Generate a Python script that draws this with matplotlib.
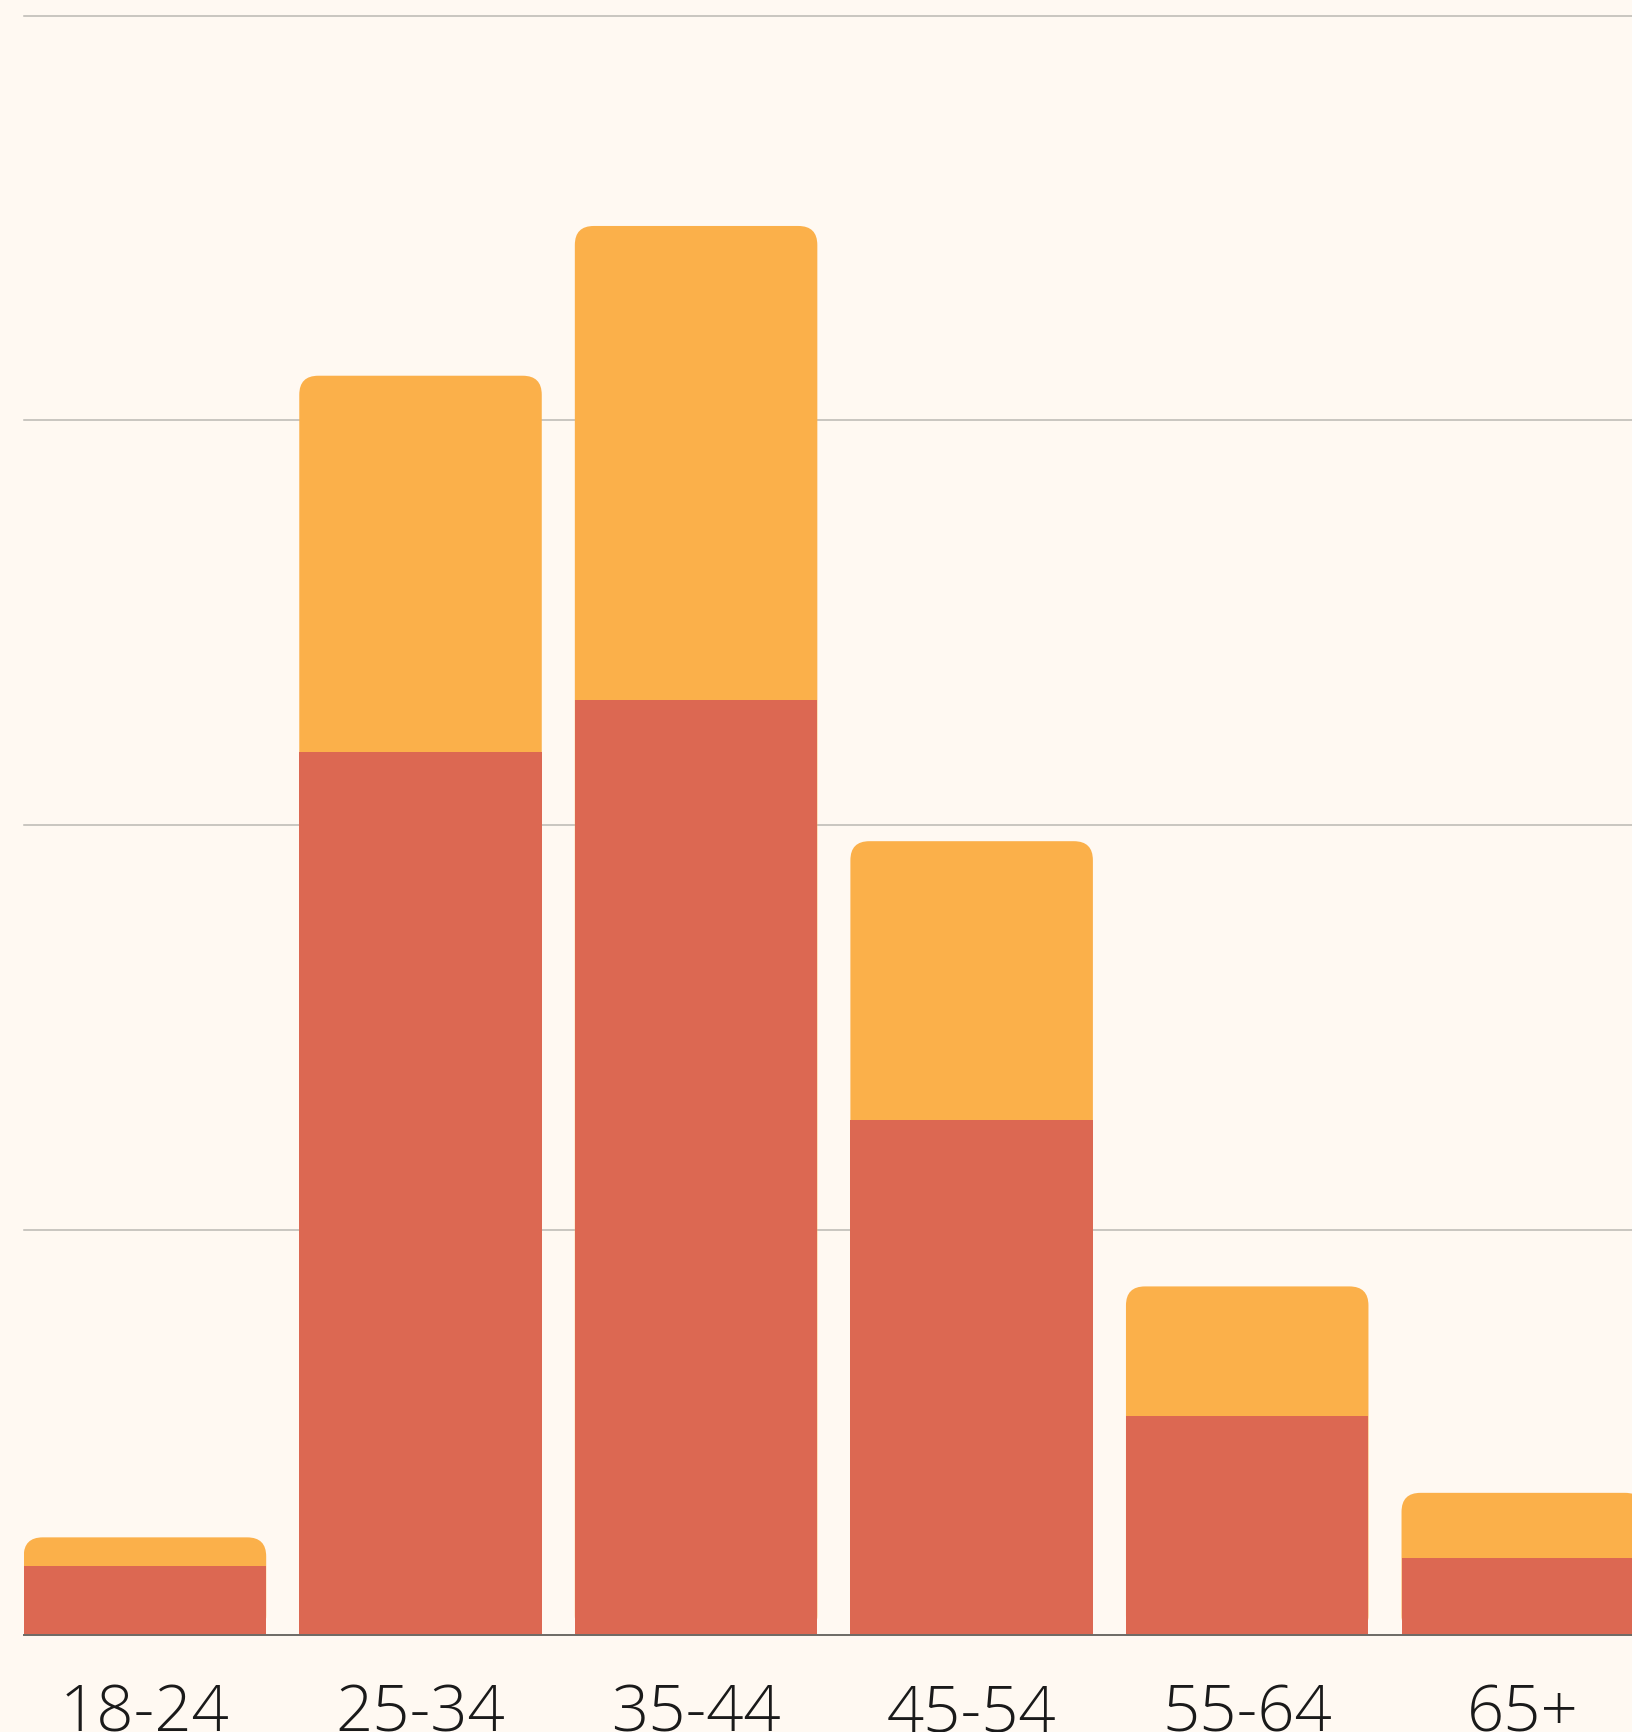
import numpy as np
import matplotlib.pyplot as plt
from matplotlib import font_manager
from matplotlib.patches import FancyBboxPatch

# age groups and the two stacked series (gridlines every 10)
groups = ['18-24', '25-34', '35-44', '45-54', '55-64', '65+']
lower_vals = [1.7, 21.8, 23.1, 12.7, 5.4, 1.9]
upper_vals = [0.7, 9.3, 11.7, 6.9, 3.2, 1.6]
grid_ticks = [0, 10, 20, 30, 40]

bg = '#FFF9F2'
red = '#DC6852'
orange = '#FBB04A'

plt.rcParams['font.family'] = ['Open Sans', 'DejaVu Sans']

# try to find a light (not condensed) face of Open Sans, the labels are thin
label_font = font_manager.FontProperties(family=['Open Sans', 'DejaVu Sans'], size=47)
light = [f for f in font_manager.fontManager.ttflist
         if f.name == 'Open Sans' and f.style == 'normal'
         and f.stretch == 'normal' and 'ondensed' not in f.fname
         and isinstance(f.weight, int) and f.weight < 400]
if light:
    light.sort(key=lambda f: abs(f.weight - 300))
    label_font = font_manager.FontProperties(fname=light[0].fname, size=47)

fig = plt.figure(figsize=(16.33, 17.33), dpi=100, facecolor=bg)
ax = fig.add_axes([23.7 / 1633, 97.5 / 1733, 1 - 23.7 / 1633, 1 - 97.5 / 1733 - 16.5 / 1733])
ax.set_facecolor(bg)

x = np.arange(len(groups))
width = 0.88
ax.set_xlim(-0.44, 5.40)
ax.set_ylim(0, 40)

totals = np.array(lower_vals) + np.array(upper_vals)

# scale of one data unit in pixels, for round corners that look round
p0 = ax.transData.transform((0, 0))
p1 = ax.transData.transform((1, 1))
sx, sy = p1[0] - p0[0], p1[1] - p0[1]
radius_px = 19

for xi, t in zip(x, totals):
    box = FancyBboxPatch((xi - width / 2, 0), width, t,
                         boxstyle='round,pad=0,rounding_size=%f' % (radius_px / sx),
                         mutation_aspect=sx / sy,
                         facecolor=orange, edgecolor='none', zorder=2)
    ax.add_patch(box)

ax.bar(x, lower_vals, width=width, color=red, edgecolor='none', zorder=3)

ax.set_yticks(grid_ticks)
ax.yaxis.grid(True, color='#BBB8B3', linewidth=1.1)
for gl in ax.get_ygridlines():
    gl.set_clip_on(False)
ax.set_axisbelow(True)
ax.tick_params(axis='y', left=False, labelleft=False)

ax.set_xticks(x)
ax.set_xticklabels(groups, fontproperties=label_font, color='#1a1a1a')
ax.tick_params(axis='x', bottom=False, pad=30)

for s in ['top', 'right', 'left']:
    ax.spines[s].set_visible(False)
ax.spines['bottom'].set_color('#6E6B66')
ax.spines['bottom'].set_linewidth(1.4)
ax.spines['bottom'].set_zorder(5)

fig.savefig('out.png', dpi=100, facecolor=bg)
